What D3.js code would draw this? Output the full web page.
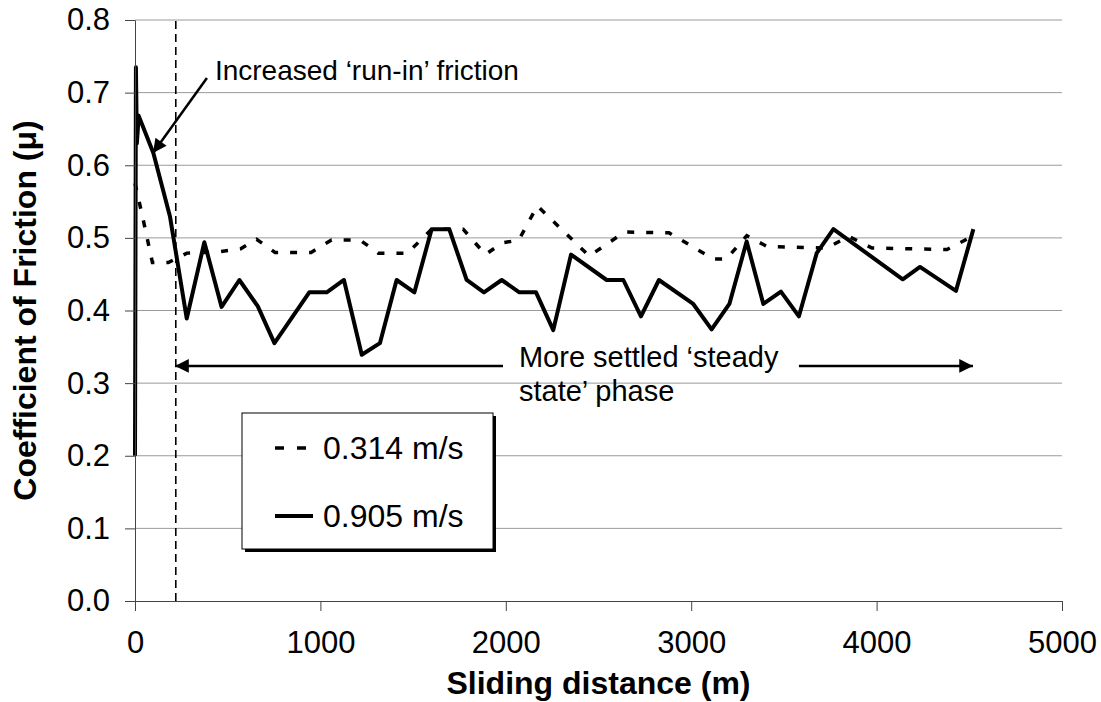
<!DOCTYPE html>
<html>
<head>
<meta charset="utf-8">
<script src="https://cdn.jsdelivr.net/npm/d3@7"></script>
<style>
  body { margin: 0; background: #fff; }
  text { font-family: "Liberation Sans", Arial, sans-serif; fill: #000; }
</style>
</head>
<body>
<svg id="chart" width="1101" height="702"></svg>
<script>
// sliding distance (m) and coefficient of friction
const distSlow = [0, 40, 94, 180, 280, 460, 570, 656, 755, 950, 1060, 1214, 1312, 1470, 1600, 1770, 1890, 1980, 2070, 2170, 2450, 2640, 2880, 3120, 3190, 3300, 3410, 3730, 3850, 3975, 4380, 4500];
const cofSlow  = [0.575, 0.53, 0.466, 0.466, 0.479, 0.481, 0.485, 0.498, 0.48, 0.48, 0.497, 0.497, 0.479, 0.479, 0.512, 0.512, 0.477, 0.493, 0.497, 0.544, 0.475, 0.508, 0.507, 0.471, 0.471, 0.503, 0.488, 0.486, 0.502, 0.486, 0.484, 0.5];

const distFast = [0, 5, 10, 20, 99, 189, 279, 374, 467, 563, 662, 752, 940, 1034, 1127, 1223, 1321, 1411, 1507, 1600, 1695, 1789, 1882, 1978, 2073, 2163, 2256, 2352, 2544, 2634, 2729, 2826, 3011, 3110, 3206, 3299, 3389, 3484, 3581, 3677, 3767, 4141, 4234, 4428, 4522];
const cofFast  = [0.2, 0.735, 0.63, 0.668, 0.617, 0.529, 0.389, 0.494, 0.405, 0.442, 0.406, 0.355, 0.425, 0.425, 0.442, 0.339, 0.355, 0.442, 0.425, 0.512, 0.512, 0.442, 0.425, 0.442, 0.425, 0.425, 0.373, 0.477, 0.442, 0.442, 0.392, 0.442, 0.409, 0.374, 0.409, 0.495, 0.409, 0.426, 0.392, 0.479, 0.512, 0.443, 0.46, 0.427, 0.512];

const seriesNames = ["0.314 m/s", "0.905 m/s"];
const xTicks = [0, 1000, 2000, 3000, 4000, 5000];
const yTicks = [0, 0.1, 0.2, 0.3, 0.4, 0.5, 0.6, 0.7, 0.8];
const runInEnd = 220;   // dashed marker, end of run-in (m)

const svg = d3.select("#chart");
const plotLeft = 135, plotRight = 1062, plotTop = 20, plotBottom = 601;

const x = d3.scaleLinear().domain([0, 5000]).range([plotLeft, plotRight]);
const y = d3.scaleLinear().domain([0, 0.8]).range([plotBottom, plotTop]);

// gridlines
svg.append("g").selectAll("line")
  .data(yTicks.filter(d => d > 0))
  .enter().append("line")
  .attr("x1", plotLeft).attr("x2", plotRight)
  .attr("y1", d => y(d)).attr("y2", d => y(d))
  .attr("stroke", "#9a9a9a").attr("stroke-width", 1);

// end of run-in marker
svg.append("line")
  .attr("x1", x(runInEnd)).attr("x2", x(runInEnd))
  .attr("y1", y(0)).attr("y2", y(0.8))
  .attr("stroke", "#000").attr("stroke-width", 1.6)
  .attr("stroke-dasharray", "8,5");

const line = d3.line().x(d => x(d[0])).y(d => y(d[1]));

svg.append("path")
  .datum(d3.zip(distSlow, cofSlow))
  .attr("d", line)
  .attr("fill", "none").attr("stroke", "#000")
  .attr("stroke-width", 3.5).attr("stroke-dasharray", "7,12");

svg.append("path")
  .datum(d3.zip(distFast, cofFast))
  .attr("d", line)
  .attr("fill", "none").attr("stroke", "#000")
  .attr("stroke-width", 4).attr("stroke-linejoin", "round");

// axes
const yAxis = svg.append("g")
  .attr("transform", "translate(" + plotLeft + ",0)")
  .call(d3.axisLeft(y).tickValues(yTicks).tickFormat(d3.format(".1f"))
    .tickSize(10).tickSizeOuter(0).tickPadding(15));
const xAxis = svg.append("g")
  .attr("transform", "translate(0," + plotBottom + ")")
  .call(d3.axisBottom(x).tickValues(xTicks).tickFormat(d3.format("d"))
    .tickSize(10).tickSizeOuter(0).tickPadding(20));
[yAxis, xAxis].forEach(function(g) {
  g.select(".domain").attr("stroke", "#444");
  g.selectAll(".tick line").attr("stroke", "#444");
  g.selectAll("text").attr("font-size", 31)
    .attr("font-family", "'Liberation Sans', Arial, sans-serif");
});

// axis titles
svg.append("text")
  .attr("x", (plotLeft + plotRight) / 2).attr("y", 694)
  .attr("text-anchor", "middle")
  .attr("font-size", 32).attr("font-weight", "bold")
  .text("Sliding distance (m)");

svg.append("text")
  .attr("transform", "translate(36," + ((plotTop + plotBottom) / 2) + ") rotate(-90)")
  .attr("text-anchor", "middle")
  .attr("font-size", 32).attr("font-weight", "bold")
  .text("Coefficient of Friction (\u03bc)");

// arrow heads
const defs = svg.append("defs");
defs.append("marker")
  .attr("id", "head")
  .attr("viewBox", "0 0 10 10")
  .attr("refX", 10).attr("refY", 5)
  .attr("markerWidth", 6.5).attr("markerHeight", 5.5)
  .attr("markerUnits", "strokeWidth")
  .attr("orient", "auto")
  .append("path").attr("d", "M0,0 L10,5 L0,10 Z").attr("fill", "#000");

// run-in annotation
svg.append("line")
  .attr("x1", x(388)).attr("y1", y(0.72))
  .attr("x2", x(97)).attr("y2", y(0.617))
  .attr("stroke", "#000").attr("stroke-width", 2.5)
  .attr("marker-end", "url(#head)");
svg.append("text")
  .attr("x", x(431)).attr("y", y(0.7176))
  .attr("font-size", 28)
  .text("Increased \u2018run-in\u2019 friction");

// steady state annotation
const arrowY = y(0.3237);
svg.append("line")
  .attr("x1", x(1985)).attr("y1", arrowY)
  .attr("x2", x(216)).attr("y2", arrowY)
  .attr("stroke", "#000").attr("stroke-width", 2.5)
  .attr("marker-end", "url(#head)");
svg.append("line")
  .attr("x1", x(3581)).attr("y1", arrowY)
  .attr("x2", x(4520)).attr("y2", arrowY)
  .attr("stroke", "#000").attr("stroke-width", 2.5)
  .attr("marker-end", "url(#head)");
const steady = svg.append("text").attr("font-size", 29);
steady.append("tspan").attr("x", x(2071)).attr("y", arrowY + 1)
  .text("More settled \u2018steady");
steady.append("tspan").attr("x", x(2071)).attr("y", arrowY + 35)
  .text("state\u2019 phase");

// legend
const lg = svg.append("g").attr("transform", "translate(242,413)");
lg.append("rect").attr("x", 3).attr("y", 3).attr("width", 251).attr("height", 136).attr("fill", "#000");
lg.append("rect").attr("width", 251).attr("height", 136)
  .attr("fill", "#fff").attr("stroke", "#000").attr("stroke-width", 1);
const styles = [
  { dash: "9,13", y: 35 },
  { dash: null, y: 103 }
];
seriesNames.forEach(function(name, i) {
  lg.append("line")
    .attr("x1", 33).attr("x2", i === 0 ? 64 : 71)
    .attr("y1", styles[i].y).attr("y2", styles[i].y)
    .attr("stroke", "#000").attr("stroke-width", i === 0 ? 3.5 : 4)
    .attr("stroke-dasharray", styles[i].dash);
  lg.append("text")
    .attr("x", 81).attr("y", styles[i].y + 11)
    .attr("font-size", 32)
    .text(name);
});
</script>
</body>
</html>
